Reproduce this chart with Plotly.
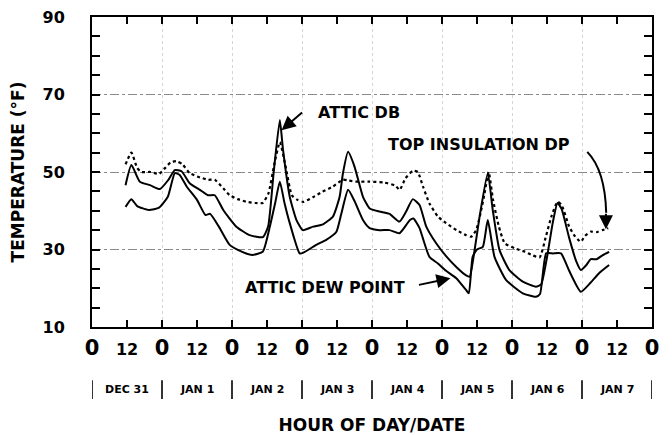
import plotly.graph_objects as go

# ---------------- data ----------------
HOURS_TOP_DP = [11.5, 13.5, 15.5, 17, 20, 23, 25, 27, 29, 31, 33.5, 37, 39.8, 42.1, 45, 47.2, 50, 53, 56, 58.5,
                60.5, 62.5, 64.4, 66.5, 68.5, 70.5, 72.5, 76, 79, 82.5, 86, 88, 91, 95, 100, 104, 105.5, 107.5,
                110, 111.7, 113.5, 115.7, 118.6, 121.4, 125, 128.3, 130, 131.7, 133.2, 134.6, 136, 137.5, 139.5,
                141.5, 145, 148.5, 151, 153.5, 155.5, 157.5, 159.6, 161, 163.6, 165.5, 167.6, 169, 171, 173, 175, 177]
TOP_INSULATION_DP = [52, 55, 51, 50, 50, 49.5, 51, 52.5, 52.8, 52, 49.7, 48.6, 48, 48, 45.8, 44, 43, 42.3, 42, 42,
                     44.5, 52, 57.7, 51, 44, 42.8, 42.3, 43.6, 44.9, 46.2, 48, 47.8, 47.5, 47.5, 47.3, 46.5, 45.4, 48.4,
                     50.3, 50, 46.2, 41.9, 38.5, 36.8, 35, 33.7, 33.3, 35, 39.3, 44.5, 50, 42.8, 35.9,
                     31.6, 30.3, 29.4, 28.5, 28, 33, 38.5, 42.3, 41.5, 35.9, 33.5, 32, 33.5, 34.6, 34.5, 35, 35.5]

HOURS_DB = [11.5, 13.5, 16.4, 19.9, 23.3, 26.1, 28.4, 30.7, 33.5, 37, 39.8, 42.1, 45, 49.5, 54, 58.6, 60.4, 62.3,
            64.4, 65.5, 67.8, 70.1, 72.3, 75.8, 79.2, 82.6, 84.9, 86, 87.8, 90, 92.9, 95.2, 98.6, 102, 105.4, 107.7,
            110, 112.3, 114.6, 118, 121.4, 124.9, 128.3, 129.5, 131, 133, 135.7, 137.4, 139.7, 143.1, 147.7, 152.2,
            154, 156, 158, 159.6, 161, 163.6, 166, 167.6, 169.5, 171, 173, 175, 177.3]
ATTIC_DB = [46.6, 51.8, 47.5, 46.6, 45.6, 47.9, 50.5, 50.2, 47.1, 45.4, 44, 44, 40.2, 35.9, 33.7, 33.2, 36, 50,
            63.4, 55.7, 43.6, 37.6, 35, 35.9, 36.5, 38.5, 43.6, 49.5, 55.2, 51.4, 43.6, 40.6, 39.8, 39.2, 37.2, 39.8,
            43, 41.5, 35.9, 31.6, 28.3, 25.5, 23.3, 23, 29, 39, 49.7, 40.2, 29.9, 24.7, 21.7, 20.4,
            21, 28, 37, 42, 40.5, 33, 27, 24.7, 26, 27.5, 27.5, 28.5, 29.4]

HOURS_DP = [11.5, 13.5, 15.5, 19.5, 23, 26, 28.4, 30, 32.5, 36, 38.9, 40.5, 43.5, 47.2, 51.5, 55, 58.6, 61, 62.8,
            64.4, 66, 67.8, 71.2, 72.5, 76.9, 80.3, 83.8, 85.5, 87.8, 90, 92.9, 95.2, 98.6, 102, 105.4, 107.7, 109,
            110.2, 112.3, 113.4, 115.7, 118.6, 121.4, 124.9, 128.3, 129.2, 130.5, 132, 134, 135.7, 138, 142, 147.7,
            152.2, 153.6, 155.7, 158, 160.8, 163.6, 167.6, 171, 174, 177.3]
ATTIC_DEW_POINT = [41, 43, 41.2, 40.2, 40.8, 43.6, 49.7, 49.3, 46.2, 42.8, 38.9, 39.2, 35.9, 31.2, 29.4, 28.6, 29.5, 36, 42,
                   47.5, 42, 36.8, 29, 29.2, 31.2, 32.5, 34.6, 39.3, 45.4, 42.5, 37.6, 35.5, 35, 35, 34.2, 36.3, 37.6,
                   38, 35.5, 33, 28.1, 26.4, 24.5, 22.6, 19.5, 18.7, 28.1, 30, 30.7, 37.6, 28.1, 22.1, 18.7,
                   17.8, 18.5, 29, 29, 29, 24.5, 19.1, 21.5, 24, 26]

X_TICK_HOURS = list(range(0, 193, 12))
X_TICK_LABELS = ["0", "12"] * 8 + ["0"]
Y_TICK_VALUES = list(range(10, 91, 5))
Y_TICK_LABELS = [str(v) if v in (10, 30, 50, 70, 90) else "" for v in Y_TICK_VALUES]
GRID_Y = [30, 50, 70]
DAY_BOUNDARIES = list(range(0, 193, 24))
DATES = ["DEC 31", "JAN 1", "JAN 2", "JAN 3", "JAN 4", "JAN 5", "JAN 6", "JAN 7"]
DATE_CENTERS = [12 + 24 * i for i in range(8)]

FONT = "DejaVu Sans"

fig = go.Figure()
fig.add_trace(go.Scatter(x=HOURS_TOP_DP, y=TOP_INSULATION_DP, mode="lines", name="TOP INSULATION DP",
                         line=dict(color="black", width=2.2, dash="3px,3px", shape="spline", smoothing=0.5)))
fig.add_trace(go.Scatter(x=HOURS_DB, y=ATTIC_DB, mode="lines", name="ATTIC DB",
                         line=dict(color="black", width=2, shape="spline", smoothing=0.5)))
fig.add_trace(go.Scatter(x=HOURS_DP, y=ATTIC_DEW_POINT, mode="lines", name="ATTIC DEW POINT",
                         line=dict(color="black", width=2, shape="spline", smoothing=0.5)))

xt = [f'<span style="font-size:21px">{t}</span>' if t == "0" else t for t in X_TICK_LABELS]

fig.update_xaxes(range=[0, 192], tickvals=X_TICK_HOURS, ticktext=xt, ticks="inside", ticklen=7,
                 tickwidth=1.5, tickcolor="black", showline=True, linewidth=2, linecolor="black",
                 mirror="ticks", showgrid=False, zeroline=False, ticklabelstandoff=7, automargin=False,
                 ticklabeloverflow="allow",
                 tickfont=dict(family=FONT, size=16, color="black", weight="bold"),
                 minor=dict(tickvals=DAY_BOUNDARIES[1:-1], showgrid=True, gridcolor="#d4d4d4",
                            griddash="dot", gridwidth=1, ticks=""),
                 title=dict(text="HOUR OF DAY/DATE", standoff=63,
                            font=dict(family=FONT, size=17, color="black", weight="bold")))
fig.update_yaxes(range=[10, 90], tickvals=Y_TICK_VALUES, ticktext=Y_TICK_LABELS, ticks="inside", ticklen=8,
                 tickwidth=1.5, tickcolor="black", showline=True, linewidth=2, linecolor="black",
                 mirror="ticks", showgrid=False, zeroline=False, ticklabelstandoff=22, automargin=False,
                 ticklabeloverflow="allow",
                 tickfont=dict(family=FONT, size=16, color="black", weight="bold"),
                 minor=dict(tickvals=GRID_Y, showgrid=True, gridcolor="#8a8a8a", griddash="dashdot",
                            gridwidth=1, ticks=""),
                 title=dict(text="TEMPERATURE (°F)", standoff=16,
                            font=dict(family=FONT, size=17, color="black", weight="bold")))

# date row under the hour ticks
for d, c in zip(DATES, DATE_CENTERS):
    fig.add_annotation(x=c, y=-0.203, xref="x", yref="paper", yanchor="middle", text=d, showarrow=False,
                       font=dict(family=FONT, size=11, color="black", weight="bold"))
for b in DAY_BOUNDARIES:
    fig.add_shape(type="line", xref="x", yref="paper", x0=b, x1=b, y0=-0.172, y1=-0.232,
                  line=dict(color="black", width=1.6))

lab_font = dict(family=FONT, size=16, color="black", weight="bold")
# ATTIC DB label + arrow
fig.add_annotation(x=91.6, y=65.3, xref="x", yref="y", text="ATTIC DB", showarrow=False, font=lab_font)
fig.add_annotation(x=65.0, y=60.8, xref="x", yref="y", text="", showarrow=True, ax=22, ay=-19,
                   arrowhead=2, arrowsize=1.4, arrowwidth=2, arrowcolor="black")
# TOP INSULATION DP label + curved arrow
fig.add_annotation(x=132.8, y=57.0, xref="x", yref="y", text="TOP INSULATION DP", showarrow=False, font=lab_font)
fig.add_shape(type="path", xref="x", yref="y",
              path="M 169.8 55.2 Q 175.9 50.5 176.3 39.5", line=dict(color="black", width=2))
fig.add_annotation(x=176.2, y=35.2, xref="x", yref="y", text="", showarrow=True, ax=0, ay=-17,
                   arrowhead=2, arrowsize=1.4, arrowwidth=2, arrowcolor="black")
# ATTIC DEW POINT label + arrow
fig.add_annotation(x=79.8, y=20.3, xref="x", yref="y", text="ATTIC DEW POINT", showarrow=False, font=lab_font)
fig.add_annotation(x=122.9, y=22.6, xref="x", yref="y", text="", showarrow=True, ax=-33, ay=7,
                   arrowhead=2, arrowsize=1.4, arrowwidth=2, arrowcolor="black")

# the page adds an 8px body margin, so the figure is 8px smaller and margins are reduced accordingly
fig.update_layout(template="none", width=664, height=427, margin=dict(l=84, r=20, t=9, b=108),
                  paper_bgcolor="white", plot_bgcolor="white", showlegend=False,
                  font=dict(family=FONT, color="black"))

fig.write_html("out.html")
